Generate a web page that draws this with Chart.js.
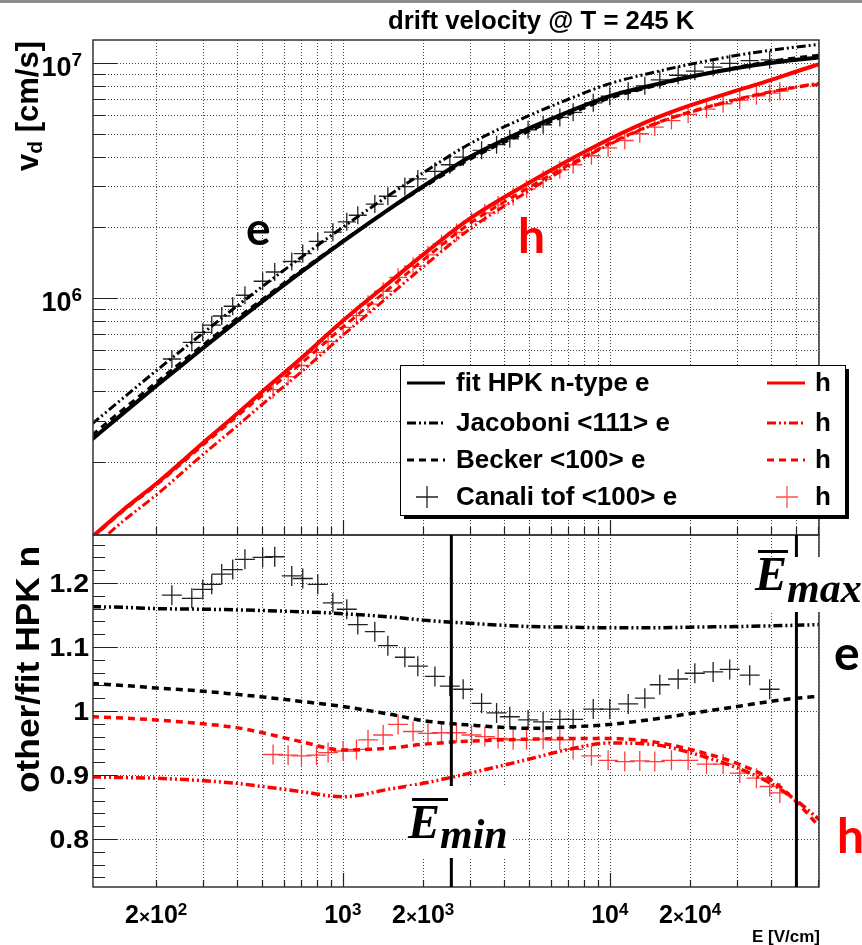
<!DOCTYPE html>
<html lang="en">
<head>
<meta charset="UTF-8">
<title>drift velocity @ T = 245 K</title>
<style>
  html, body { margin: 0; padding: 0; background: #fff; }
  .page { position: relative; width: 862px; height: 945px; overflow: hidden; background: #fff; }
  .page canvas { position: absolute; left: 0; top: 0; }
  .topbar { position: absolute; left: 0; top: 0; width: 862px; height: 3px; background: #8c8c8c; }
</style>
<script src="https://cdn.jsdelivr.net/npm/chart.js"></script>
</head>
<body>
<div class="page">
  <canvas id="topChart" width="862" height="945"></canvas>
  <canvas id="ratioChart" width="862" height="945"></canvas>
  <div class="topbar"></div>
</div>
<script>
// field values (V/cm) used for the model curves
const E_GRID = [115, 150, 200, 300, 400, 500, 700, 1000, 1500, 2000, 3000, 5000, 7000, 10000, 15000, 20000, 30000, 40000, 50000, 61000];

// drift velocity (cm/s), electrons
const V_FIT_E  = [2.5e5, 3.22e5, 4.22e5, 6.13e5, 7.95e5, 9.67e5, 1.292e6, 1.737e6, 2.40e6, 2.99e6, 3.99e6, 5.28e6, 6.2e6, 7.23e6, 8.13e6, 8.74e6, 9.52e6, 1.0e7, 1.032e7, 1.057e7];
const V_JAC_E  = [2.91e5, 3.74e5, 4.90e5, 7.10e5, 9.21e5, 1.119e6, 1.492e6, 2.0e6, 2.75e6, 3.41e6, 4.54e6, 5.98e6, 7.01e6, 8.17e6, 9.19e6, 9.88e6, 1.078e7, 1.133e7, 1.17e7, 1.2e7];
const V_BECK_E = [2.61e5, 3.35e5, 4.37e5, 6.32e5, 8.16e5, 9.88e5, 1.311e6, 1.749e6, 2.39e6, 2.95e6, 3.90e6, 5.14e6, 6.05e6, 7.08e6, 8.03e6, 8.71e6, 9.59e6, 1.015e7, 1.053e7, 1.081e7];
// drift velocity (cm/s), holes
const V_FIT_H  = [9.6e4, 1.25e5, 1.62e5, 2.42e5, 3.2e5, 4.0e5, 5.55e5, 8.0e5, 1.17e6, 1.53e6, 2.18e6, 3.1e6, 3.85e6, 4.75e6, 5.85e6, 6.6e6, 7.65e6, 8.45e6, 9.2e6, 9.9e6];
const V_JAC_H  = [8.61e4, 1.12e5, 1.45e5, 2.16e5, 2.84e5, 3.53e5, 4.85e5, 6.93e5, 1.027e6, 1.357e6, 1.969e6, 2.87e6, 3.62e6, 4.51e6, 5.54e6, 6.17e6, 6.97e6, 7.5e6, 7.91e6, 8.22e6];
const V_BECK_H = [9.51e4, 1.236e5, 1.597e5, 2.37e5, 3.12e5, 3.86e5, 5.28e5, 7.51e5, 1.102e6, 1.45e6, 2.08e6, 2.96e6, 3.68e6, 4.55e6, 5.56e6, 6.2e6, 7.02e6, 7.55e6, 7.89e6, 8.11e6];

// ratio other / fit HPK n
const R_JAC_E  = [1.163, 1.162, 1.160, 1.159, 1.158, 1.157, 1.155, 1.152, 1.147, 1.142, 1.137, 1.132, 1.131, 1.130, 1.130, 1.131, 1.132, 1.133, 1.134, 1.135];
const R_BECK_E = [1.043, 1.040, 1.036, 1.031, 1.026, 1.022, 1.015, 1.007, 0.995, 0.985, 0.978, 0.973, 0.975, 0.979, 0.988, 0.996, 1.007, 1.015, 1.020, 1.023];
const R_JAC_H  = [0.897, 0.896, 0.895, 0.891, 0.887, 0.882, 0.874, 0.866, 0.878, 0.887, 0.903, 0.925, 0.940, 0.950, 0.947, 0.935, 0.911, 0.887, 0.860, 0.830];
const R_BECK_H = [0.991, 0.989, 0.986, 0.980, 0.974, 0.966, 0.952, 0.939, 0.942, 0.948, 0.953, 0.956, 0.957, 0.957, 0.951, 0.940, 0.918, 0.893, 0.858, 0.819];

// Canali time-of-flight points, electrons
const E_CAN_E = [229, 272, 299, 323, 352, 387, 430, 501, 556, 644, 708, 806, 918, 1035, 1138, 1318, 1475, 1708, 1910, 2213, 2517, 2824, 3310, 3767, 4222, 4943, 5627, 6500, 7290, 8670, 10000, 11720, 13530, 15390, 18030, 20820, 24380, 28130, 33420, 39700];
const V_CAN_E = [5.50e5, 6.47e5, 7.14e5, 7.67e5, 8.38e5, 9.22e5, 1.027e6, 1.178e6, 1.29e6, 1.43e6, 1.545e6, 1.74e6, 1.905e6, 2.11e6, 2.25e6, 2.51e6, 2.71e6, 2.98e6, 3.21e6, 3.46e6, 3.69e6, 3.98e6, 4.25e6, 4.49e6, 4.76e6, 5.20e6, 5.46e6, 5.87e6, 6.17e6, 6.77e6, 7.22e6, 7.58e6, 8.0e6, 8.48e6, 8.87e6, 9.23e6, 9.60e6, 9.96e6, 1.024e7, 1.032e7];
const R_CAN_E = [1.181, 1.176, 1.190, 1.198, 1.214, 1.221, 1.237, 1.240, 1.241, 1.211, 1.207, 1.198, 1.169, 1.159, 1.135, 1.124, 1.102, 1.084, 1.070, 1.054, 1.039, 1.034, 1.012, 0.997, 0.991, 0.986, 0.983, 0.987, 0.987, 1.003, 1.003, 1.011, 1.020, 1.041, 1.050, 1.059, 1.061, 1.065, 1.056, 1.034];

// Canali time-of-flight points, holes
const E_CAN_H = [548, 624, 700, 797, 881, 1003, 1125, 1243, 1416, 1611, 1833, 2084, 2342, 2667, 3035, 3404, 3817, 4346, 4878, 5627, 6498, 7290, 8536, 9856, 11380, 12950, 14740, 17020, 19650, 23030, 26570, 30670, 35420, 39720, 43330];
const V_CAN_H = [4.07e5, 4.63e5, 5.16e5, 5.87e5, 6.52e5, 7.5e5, 8.41e5, 9.41e5, 1.068e6, 1.224e6, 1.365e6, 1.525e6, 1.70e6, 1.90e6, 2.12e6, 2.30e6, 2.49e6, 2.70e6, 2.91e6, 3.2e6, 3.51e6, 3.69e6, 4.03e6, 4.35e6, 4.68e6, 5.0e6, 5.34e6, 5.69e6, 6.05e6, 6.37e6, 6.71e6, 6.95e6, 7.25e6, 7.44e6, 7.59e6];
const R_CAN_H = [0.932, 0.931, 0.930, 0.931, 0.935, 0.9375, 0.940, 0.955, 0.9625, 0.979, 0.968, 0.965, 0.966, 0.966, 0.9625, 0.960, 0.957, 0.955, 0.955, 0.956, 0.955, 0.940, 0.930, 0.923, 0.921, 0.922, 0.921, 0.923, 0.923, 0.917, 0.917, 0.903, 0.895, 0.882, 0.872];

// field marks in the ratio pad
const E_MIN_MARK = 2550;
const E_MAX_MARK = 50000;

// axis ranges, grid and tick positions
const X_MIN = 116, X_MAX = 60750;
const V_MIN = 9.8e4, V_MAX = 1.253e7;
const R_MIN = 0.725, R_MAX = 1.275;
const X_GRID = [200, 300, 400, 500, 600, 700, 800, 900, 1000, 2000, 3000, 4000, 5000, 6000, 7000, 8000, 9000, 10000, 20000, 30000, 40000, 50000, 60000];
const X_MAJOR = [1000, 10000];
const X_LABELS = [200, 1000, 2000, 10000, 20000];
const X_LABEL_MANT = ['2', '', '2', '', '2'];
const X_LABEL_EXP = ['2', '3', '3', '4', '4'];
const V_GRID = [2e5, 3e5, 4e5, 5e5, 6e5, 7e5, 8e5, 9e5, 1e6, 2e6, 3e6, 4e6, 5e6, 6e6, 7e6, 8e6, 9e6, 1e7];
const V_LABELS = [1e6, 1e7];
const V_LABEL_EXP = ['6', '7'];
const R_GRID = [0.8, 0.9, 1.0, 1.1, 1.2];
const R_LABEL_TEXT = ['0.8', '0.9', '1', '1.1', '1.2'];
const R_TICKS = [0.74, 0.76, 0.78, 0.8, 0.82, 0.84, 0.86, 0.88, 0.9, 0.92, 0.94, 0.96, 0.98, 1.0, 1.02, 1.04, 1.06, 1.08, 1.1, 1.12, 1.14, 1.16, 1.18, 1.2, 1.22, 1.24, 1.26];

const SANS = '"Liberation Sans", Arial, Helvetica, sans-serif';
const SERIF = '"Liberation Serif", "DejaVu Serif", serif';
const HAND = 'Lato, "Open Sans", sans-serif';
const RED = '#ff0000';
const RED_PT = '#ff3c3c';
const DASH_JAC = [9, 3, 2, 3, 2, 3];
const DASH_BECK = [7, 5];

function pts(xs, ys) {
  return xs.map((x, i) => ({ x: x, y: ys[i] }));
}

function lineSet(label, xs, ys, color, width, dash) {
  return {
    label: label, data: pts(xs, ys), borderColor: color, backgroundColor: color,
    borderWidth: width, borderDash: dash, pointRadius: 0, fill: false,
    cubicInterpolationMode: 'monotone', clip: 0
  };
}

function crossSet(label, xs, ys, color, r) {
  return {
    label: label, data: pts(xs, ys), showLine: false, pointStyle: 'cross',
    pointRadius: r, pointBorderWidth: 1.3, pointBorderColor: color, borderColor: color, clip: 0
  };
}

// draw several text runs on one baseline (superscripts, subscripts)
function runs(ctx, list, x, y, align, sx) {
  sx = sx || 1;
  let w = 0;
  list.forEach(r => { ctx.font = r.f; r.w = ctx.measureText(r.t).width; w += r.w; });
  let cx = align === 'center' ? x - w * sx / 2 : (align === 'right' ? x - w * sx : x);
  ctx.save();
  ctx.textAlign = 'left';
  ctx.textBaseline = 'alphabetic';
  list.forEach(r => {
    ctx.font = r.f;
    ctx.fillStyle = r.c || '#000';
    ctx.save();
    ctx.translate(cx, y + (r.dy || 0));
    ctx.scale(sx, 1);
    ctx.fillText(r.t, 0, 0);
    ctx.restore();
    cx += r.w * sx;
  });
  ctx.restore();
}

function vtext(ctx, list, x, y, sx) {
  ctx.save();
  ctx.translate(x, y);
  ctx.rotate(-Math.PI / 2);
  runs(ctx, list, 0, 0, 'left', sx);
  ctx.restore();
}

function drawGrid(chart, xs, ys) {
  const { ctx, chartArea: a, scales: { x, y } } = chart;
  ctx.save();
  ctx.strokeStyle = '#444';
  ctx.lineWidth = 1;
  ctx.setLineDash([1, 2]);
  ctx.beginPath();
  xs.forEach(v => {
    const px = Math.round(x.getPixelForValue(v)) + 0.5;
    ctx.moveTo(px, a.top); ctx.lineTo(px, a.bottom);
  });
  ys.forEach(v => {
    const py = Math.round(y.getPixelForValue(v)) + 0.5;
    ctx.moveTo(a.left, py); ctx.lineTo(a.right, py);
  });
  ctx.stroke();
  ctx.restore();
}

function drawFrameAndTicks(chart, yTicks, yMajor, lyMin, lyMaj, lxMin, lxMaj) {
  const { ctx, chartArea: a, scales: { x, y } } = chart;
  ctx.save();
  ctx.strokeStyle = '#222';
  ctx.lineWidth = 1.2;
  ctx.beginPath();
  yTicks.forEach(v => {
    const py = Math.round(y.getPixelForValue(v)) + 0.5;
    const len = yMajor.some(m => Math.abs(m - v) < 1e-9 * Math.max(1, m)) ? lyMaj : lyMin;
    ctx.moveTo(a.left, py); ctx.lineTo(a.left + len, py);
  });
  X_GRID.forEach(v => {
    const px = Math.round(x.getPixelForValue(v)) + 0.5;
    const len = X_MAJOR.includes(v) ? lxMaj : lxMin;
    ctx.moveTo(px, a.bottom); ctx.lineTo(px, a.bottom - len);
  });
  ctx.stroke();
  ctx.strokeStyle = '#333';
  ctx.lineWidth = 1.5;
  ctx.strokeRect(a.left, a.top, a.right - a.left, a.bottom - a.top);
  ctx.restore();
}

function legendLine(ctx, x1, x2, y, color, dash) {
  ctx.save();
  ctx.strokeStyle = color;
  ctx.lineWidth = 3;
  ctx.setLineDash(dash);
  ctx.beginPath(); ctx.moveTo(x1, y); ctx.lineTo(x2, y); ctx.stroke();
  ctx.restore();
}

function legendCross(ctx, cx, cy, color) {
  ctx.save();
  ctx.strokeStyle = color;
  ctx.lineWidth = 1.3;
  ctx.beginPath();
  ctx.moveTo(cx - 11, cy); ctx.lineTo(cx + 11, cy);
  ctx.moveTo(cx, cy - 11); ctx.lineTo(cx, cy + 11);
  ctx.stroke();
  ctx.restore();
}

const topDecor = {
  id: 'topDecor',
  beforeDatasetsDraw(chart) { drawGrid(chart, X_GRID, V_GRID); },
  afterDraw(chart) {
    const { ctx, scales: { y } } = chart;
    drawFrameAndTicks(chart, V_GRID, V_LABELS, 12, 24, 8, 15);

    // y tick labels 10^6, 10^7
    V_LABELS.forEach((v, i) => {
      const py = y.getPixelForValue(v);
      runs(ctx, [{ t: '10', f: 'bold 27px ' + SANS }, { t: V_LABEL_EXP[i], f: 'bold 19px ' + SANS, dy: -10 }], 82, py + 13, 'right');
    });

    // title and y axis title
    runs(ctx, [{ t: 'drift velocity @ T = 245 K', f: 'bold 25px ' + SANS }], 388, 29, 'left', 1.03);
    vtext(ctx, [{ t: 'v', f: 'bold 31px ' + SANS }, { t: 'd', f: 'bold 21px ' + SANS, dy: 4 }, { t: ' [cm/s]', f: 'bold 31px ' + SANS }], 38, 171);

    // legend box with shadow
    ctx.save();
    ctx.fillStyle = '#000';
    ctx.fillRect(404, 515, 445, 4);
    ctx.fillRect(845, 369, 4, 150);
    ctx.fillStyle = '#fff';
    ctx.fillRect(400, 365, 445, 150);
    ctx.strokeStyle = '#000';
    ctx.lineWidth = 1;
    ctx.strokeRect(400.5, 365.5, 445, 150);
    ctx.restore();

    const rows = [383, 423, 460, 497];
    const names = ['fit HPK n-type e', 'Jacoboni <111> e', 'Becker <100> e', 'Canali tof <100> e'];
    const dashes = [[], DASH_JAC, DASH_BECK];
    rows.forEach((ry, i) => {
      if (i < 3) {
        legendLine(ctx, 407, 445, ry, '#000', dashes[i]);
        legendLine(ctx, 767, 805, ry, RED, dashes[i]);
      } else {
        legendCross(ctx, 427, ry, '#222');
        legendCross(ctx, 787, ry, '#ff5050');
      }
      runs(ctx, [{ t: names[i], f: 'bold 26px ' + SANS }], 456, ry + 8, 'left');
      runs(ctx, [{ t: 'h', f: 'bold 26px ' + SANS }], 815, ry + 8, 'left');
    });

    // curve labels
    runs(ctx, [{ t: 'e', f: 'bold 46px ' + HAND }], 246, 245, 'left');
    runs(ctx, [{ t: 'h', f: 'bold 48px ' + HAND, c: RED }], 518, 253, 'left');
  }
};

const ratioDecor = {
  id: 'ratioDecor',
  beforeDatasetsDraw(chart) { drawGrid(chart, X_GRID, R_GRID); },
  afterDraw(chart) {
    const { ctx, chartArea: a, scales: { x, y } } = chart;
    drawFrameAndTicks(chart, R_TICKS, R_GRID, 12, 24, 7, 14);

    // E_min / E_max marker lines
    ctx.save();
    ctx.strokeStyle = '#000';
    ctx.lineWidth = 3;
    ctx.beginPath();
    [E_MIN_MARK, E_MAX_MARK].forEach(v => {
      const px = x.getPixelForValue(v);
      ctx.moveTo(px, a.top); ctx.lineTo(px, a.bottom);
    });
    ctx.stroke();
    // white boxes behind the marker labels
    ctx.fillStyle = '#fff';
    ctx.fillRect(752, 557, 110, 55);
    ctx.fillRect(406, 786, 107, 72);
    ctx.restore();

    // y tick labels
    R_GRID.forEach((v, i) => {
      runs(ctx, [{ t: R_LABEL_TEXT[i], f: 'bold 25px ' + SANS }], 89, y.getPixelForValue(v) + 9, 'right', 1.14);
    });

    // x tick labels
    X_LABELS.forEach((v, i) => {
      const list = [];
      if (X_LABEL_MANT[i]) {
        list.push({ t: X_LABEL_MANT[i], f: 'bold 25px ' + SANS });
        list.push({ t: '\u00d7', f: 'bold 19px ' + SANS });
      }
      list.push({ t: '10', f: 'bold 25px ' + SANS });
      list.push({ t: X_LABEL_EXP[i], f: 'bold 17px ' + SANS, dy: -8 });
      runs(ctx, list, x.getPixelForValue(v), 923, 'center');
    });
    runs(ctx, [{ t: 'E [V/cm]', f: 'bold 17px ' + SANS }], 820, 942, 'right');

    // y axis title
    vtext(ctx, [{ t: 'other/fit HPK n', f: 'bold 33px ' + SANS }], 39, 793, 1.07);

    // E-bar labels
    ctx.save();
    ctx.fillStyle = '#000';
    ctx.fillRect(758, 550, 30, 3);
    ctx.fillRect(412, 798, 36, 3);
    ctx.restore();
    runs(ctx, [{ t: 'E', f: 'italic bold 48px ' + SERIF }, { t: 'max', f: 'italic bold 42px ' + SERIF, dy: 12 }], 755, 590, 'left');
    runs(ctx, [{ t: 'E', f: 'italic bold 48px ' + SERIF }, { t: 'min', f: 'italic bold 42px ' + SERIF, dy: 10 }], 408, 838, 'left');

    // side labels
    runs(ctx, [{ t: 'e', f: 'bold 48px ' + HAND }], 834, 670, 'left');
    runs(ctx, [{ t: 'h', f: 'bold 48px ' + HAND, c: RED }], 837, 853, 'left');
  }
};

function baseOptions(padding, yType, yMin, yMax) {
  return {
    responsive: false,
    devicePixelRatio: 1,
    animation: false,
    events: [],
    layout: { padding: padding },
    plugins: { legend: { display: false }, tooltip: { enabled: false }, title: { display: false } },
    scales: {
      x: {
        type: 'logarithmic', min: X_MIN, max: X_MAX,
        grid: { display: false }, border: { display: false }, ticks: { display: false },
        afterFit: s => { s.height = 0; }
      },
      y: {
        type: yType, min: yMin, max: yMax,
        grid: { display: false }, border: { display: false }, ticks: { display: false },
        afterFit: s => { s.width = 93; }
      }
    }
  };
}

new Chart(document.getElementById('topChart'), {
  type: 'line',
  data: {
    datasets: [
      lineSet('fit HPK n-type e', E_GRID, V_FIT_E, '#000', 4, []),
      lineSet('Jacoboni <111> e', E_GRID, V_JAC_E, '#000', 3, DASH_JAC),
      lineSet('Becker <100> e', E_GRID, V_BECK_E, '#000', 3, DASH_BECK),
      crossSet('Canali tof <100> e', E_CAN_E, V_CAN_E, '#222', 9),
      lineSet('fit HPK h', E_GRID, V_FIT_H, RED, 4, []),
      lineSet('Jacoboni h', E_GRID, V_JAC_H, RED, 3, DASH_JAC),
      lineSet('Becker h', E_GRID, V_BECK_H, RED, 3, DASH_BECK),
      crossSet('Canali tof h', E_CAN_H, V_CAN_H, RED_PT, 9)
    ]
  },
  options: baseOptions({ left: 0, right: 43, top: 40, bottom: 410 }, 'logarithmic', V_MIN, V_MAX),
  plugins: [topDecor]
});

new Chart(document.getElementById('ratioChart'), {
  type: 'line',
  data: {
    datasets: [
      lineSet('Jacoboni e / fit', E_GRID, R_JAC_E, '#000', 3.5, DASH_JAC),
      lineSet('Becker e / fit', E_GRID, R_BECK_E, '#000', 3.5, DASH_BECK),
      crossSet('Canali e / fit', E_CAN_E, R_CAN_E, '#222', 10),
      lineSet('Jacoboni h / fit', E_GRID, R_JAC_H, RED, 3.5, DASH_JAC),
      lineSet('Becker h / fit', E_GRID, R_BECK_H, RED, 3.5, DASH_BECK),
      crossSet('Canali h / fit', E_CAN_H, R_CAN_H, RED_PT, 10)
    ]
  },
  options: baseOptions({ left: 0, right: 43, top: 535, bottom: 58 }, 'linear', R_MIN, R_MAX),
  plugins: [ratioDecor]
});
</script>
</body>
</html>
